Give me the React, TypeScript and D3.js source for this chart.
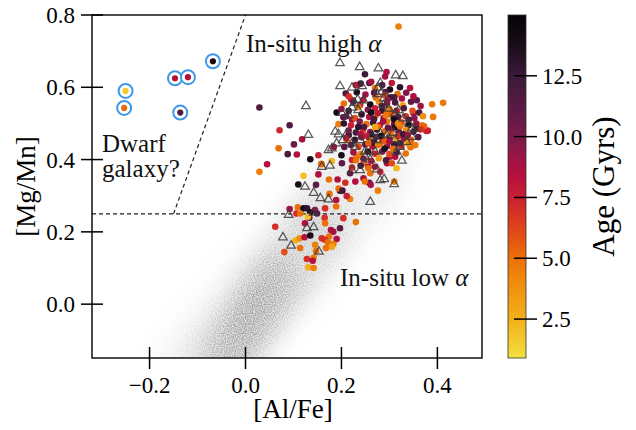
import React from 'react';
import * as d3 from 'd3';

const W = 636, H = 430;
const PLOT = { left: 92, right: 482, top: 15, bottom: 358 };
const CBAR = { left: 508, right: 526 };

const xDomain = [-0.32, 0.493];
const yDomain = [-0.149, 0.8];
const ageDomain = [0.9, 15.0];
const xTicks = [-0.2, 0.0, 0.2, 0.4];
const yTicks = [0.0, 0.2, 0.4, 0.6, 0.8];
const ageTicks = [2.5, 5.0, 7.5, 10.0, 12.5];

const cbarAges = [0.9, 2.5, 4.0, 5.0, 6.0, 7.0, 7.5, 8.5, 10.0, 11.0, 12.5, 13.5, 15.0];
const cbarColors = ['#f4e03e', '#f3b01a', '#f08c0c', '#eb7008', '#e24c18', '#d42e26', '#c82034', '#b3103f', '#7a1a4a', '#5e1a46', '#3b1a3a', '#1f1020', '#050205'];

// background sample density ridges: [x1, y1, x2, y2, half-width (dex), density]
const cloudRidges = [
  [-0.09, -0.17, 0.25, 0.36, 0.09, 0.11],
  [0.15, 0.25, 0.32, 0.5, 0.06, 0.06],
  [-0.05, -0.15, 0.15, 0.2, 0.065, 0.22],
  [-0.03, -0.13, 0.06, 0.07, 0.05, 0.3],
  [-0.01, -0.07, 0.03, 0.02, 0.03, 0.18],
];

// dwarf galaxy candidates [Al/Fe, Mg/Mn, age]
const dwarfStars = [
  [-0.25, 0.59, 1.6],
  [-0.253, 0.543, 5.2],
  [-0.147, 0.625, 8.6],
  [-0.12, 0.628, 8.6],
  [-0.136, 0.53, 11.5],
  [-0.068, 0.672, 14.2],
];

// stars with ages [Al/Fe, Mg/Mn, age]
const ageStars = [
  [0.319, 0.768, 4.5], [0.249, 0.636, 12.5], [0.294, 0.642, 8.5], [0.291, 0.63, 9], [0.258, 0.612, 11.5],
  [0.343, 0.598, 8.5], [0.029, 0.544, 11.5], [0.092, 0.495, 11.5], [0.071, 0.481, 7.2], [0.118, 0.456, 8.8],
  [0.101, 0.442, 10.5], [0.069, 0.431, 5], [0.088, 0.415, 12], [0.107, 0.414, 8.5], [0.135, 0.401, 14],
  [0.045, 0.387, 8.5], [0.029, 0.366, 4.5], [0.121, 0.355, 2], [0.11, 0.331, 14], [0.147, 0.33, 11],
  [0.092, 0.263, 9], [0.109, 0.268, 5], [0.121, 0.265, 14], [0.106, 0.251, 7], [0.209, 0.583, 12],
  [0.23, 0.606, 9], [0.22, 0.566, 7.5], [0.19, 0.53, 14], [0.204, 0.517, 11], [0.194, 0.498, 4.5],
  [0.222, 0.511, 9], [0.215, 0.468, 14], [0.234, 0.606, 7.5], [0.301, 0.594, 14], [0.292, 0.587, 11.5],
  [0.317, 0.581, 5], [0.31, 0.572, 11.5], [0.326, 0.569, 9], [0.412, 0.557, 4.8], [0.389, 0.553, 4.8],
  [0.357, 0.564, 11], [0.391, 0.518, 4.8], [0.35, 0.529, 9], [0.239, 0.551, 7.5], [0.272, 0.571, 5],
  [0.368, 0.495, 4.5], [0.38, 0.48, 7.5], [0.357, 0.486, 13], [0.377, 0.479, 7.5], [0.35, 0.44, 5],
  [0.333, 0.454, 2.5], [0.315, 0.376, 2.2], [0.31, 0.339, 4.5], [0.276, 0.314, 4.5], [0.152, 0.412, 7.5],
  [0.158, 0.388, 5], [0.18, 0.396, 2.2], [0.201, 0.39, 11], [0.2, 0.412, 14], [0.184, 0.435, 8.5],
  [0.206, 0.435, 11], [0.152, 0.359, 8.5], [0.174, 0.345, 5], [0.192, 0.345, 8.5], [0.208, 0.336, 7],
  [0.197, 0.314, 13], [0.175, 0.305, 5], [0.218, 0.291, 4.5], [0.189, 0.288, 8.5], [0.128, 0.265, 13],
  [0.145, 0.26, 9], [0.166, 0.265, 7], [0.189, 0.27, 5], [0.354, 0.44, 4.5], [0.344, 0.434, 5],
  [0.334, 0.417, 5], [0.312, 0.408, 8.5], [0.258, 0.336, 11], [0.246, 0.348, 8.5], [0.062, 0.214, 7],
  [0.114, 0.251, 5], [0.104, 0.176, 2.5], [0.113, 0.182, 4], [0.081, 0.144, 6], [0.123, 0.185, 8.5],
  [0.135, 0.19, 14], [0.114, 0.155, 5], [0.124, 0.224, 8.5], [0.133, 0.239, 11], [0.135, 0.254, 13.5],
  [0.149, 0.251, 11.5], [0.165, 0.239, 7], [0.166, 0.224, 5], [0.178, 0.205, 8.5], [0.183, 0.2, 9],
  [0.197, 0.21, 11], [0.204, 0.238, 7], [0.23, 0.227, 5], [0.174, 0.187, 5], [0.159, 0.182, 7],
  [0.166, 0.178, 7], [0.19, 0.18, 8.5], [0.172, 0.171, 5], [0.183, 0.166, 4.5], [0.18, 0.159, 3],
  [0.168, 0.155, 5], [0.145, 0.164, 4.5], [0.147, 0.147, 5], [0.142, 0.129, 4.5], [0.128, 0.125, 7],
  [0.14, 0.12, 8.5], [0.131, 0.102, 2.5], [0.142, 0.1, 4.5], [0.159, 0.387, 5], [0.222, 0.399, 7.5],
  [0.232, 0.408, 5], [0.211, 0.454, 5], [0.256, 0.422, 2.5], [0.246, 0.39, 5], [0.256, 0.38, 8.5],
  [0.26, 0.362, 5], [0.281, 0.366, 7.5], [0.295, 0.39, 8.5], [0.301, 0.408, 8.5], [0.218, 0.362, 11],
  [0.229, 0.339, 8.5], [0.249, 0.339, 5], [0.261, 0.33, 9], [0.194, 0.32, 5], [0.211, 0.299, 7.5],
  [0.202, 0.314, 12], [0.13, 0.242, 2],
  // dense high-alpha clump
  [0.24, 0.61, 12], [0.262, 0.615, 9], [0.285, 0.606, 11.5], [0.305, 0.612, 8], [0.322, 0.6, 13], [0.27, 0.598, 5],
  [0.215, 0.575, 7], [0.232, 0.586, 13.5], [0.25, 0.58, 9], [0.268, 0.585, 11], [0.29, 0.578, 6], [0.302, 0.572, 12.5],
  [0.335, 0.585, 10], [0.35, 0.575, 8.5], [0.205, 0.555, 5], [0.225, 0.56, 11], [0.245, 0.565, 8], [0.26, 0.552, 14],
  [0.278, 0.56, 4], [0.295, 0.555, 9.5], [0.312, 0.558, 12], [0.328, 0.55, 3], [0.345, 0.56, 11], [0.365, 0.548, 9],
  [0.2, 0.54, 9], [0.215, 0.535, 12.5], [0.235, 0.545, 4.5], [0.255, 0.538, 10], [0.27, 0.542, 7.5], [0.285, 0.535, 13],
  [0.3, 0.54, 5], [0.315, 0.535, 8], [0.33, 0.542, 11.5], [0.348, 0.535, 6], [0.362, 0.53, 12],
  [0.21, 0.52, 11], [0.228, 0.515, 6], [0.242, 0.525, 13], [0.258, 0.518, 8.5], [0.272, 0.522, 3.5], [0.288, 0.515, 10.5],
  [0.302, 0.525, 5.5], [0.318, 0.518, 12], [0.334, 0.52, 7], [0.352, 0.515, 9.5], [0.37, 0.52, 4],
  [0.205, 0.5, 13], [0.22, 0.495, 7.5], [0.238, 0.505, 10], [0.252, 0.498, 5], [0.266, 0.502, 12.5], [0.28, 0.495, 8],
  [0.295, 0.505, 4.5], [0.31, 0.498, 11], [0.325, 0.503, 6], [0.34, 0.495, 14], [0.356, 0.5, 9], [0.372, 0.492, 5.5],
  [0.215, 0.48, 10], [0.23, 0.475, 12], [0.245, 0.482, 6.5], [0.26, 0.476, 9], [0.274, 0.483, 13.5], [0.29, 0.478, 5],
  [0.305, 0.484, 8], [0.32, 0.476, 10.5], [0.335, 0.482, 4], [0.35, 0.477, 12], [0.365, 0.483, 7],
  [0.21, 0.46, 8], [0.228, 0.455, 13], [0.242, 0.462, 9.5], [0.258, 0.456, 4.5], [0.272, 0.462, 11], [0.286, 0.455, 7],
  [0.3, 0.462, 12.5], [0.316, 0.455, 3], [0.33, 0.46, 9], [0.345, 0.455, 5.5], [0.36, 0.462, 11.5],
  [0.22, 0.44, 11], [0.236, 0.436, 6], [0.25, 0.442, 12], [0.265, 0.436, 8.5], [0.28, 0.443, 5], [0.295, 0.437, 10],
  [0.31, 0.442, 13], [0.325, 0.436, 7], [0.34, 0.443, 4],
  [0.225, 0.42, 9], [0.24, 0.415, 4.5], [0.255, 0.422, 13], [0.27, 0.416, 7.5], [0.285, 0.422, 10.5], [0.3, 0.415, 6],
  [0.315, 0.42, 12], [0.23, 0.398, 5], [0.246, 0.402, 10], [0.262, 0.396, 8], [0.278, 0.404, 3.5], [0.293, 0.398, 12],
  [0.305, 0.39, 6], [0.222, 0.378, 7], [0.24, 0.383, 12.5], [0.256, 0.376, 5], [0.27, 0.38, 9],
  [0.295, 0.53, 5], [0.3, 0.535, 4.5], [0.305, 0.528, 5.5], [0.292, 0.522, 4.8],
  [0.262, 0.47, 13], [0.276, 0.49, 5], [0.283, 0.466, 14], [0.297, 0.488, 11], [0.304, 0.47, 4.5], [0.312, 0.49, 13.5],
  [0.318, 0.465, 7], [0.287, 0.505, 9], [0.268, 0.512, 12], [0.276, 0.528, 8], [0.309, 0.512, 14], [0.322, 0.492, 5],
  [0.329, 0.47, 12.5], [0.291, 0.45, 5.5], [0.268, 0.447, 13], [0.253, 0.466, 8], [0.247, 0.49, 11.5], [0.284, 0.548, 12],
  [0.296, 0.565, 9], [0.262, 0.53, 14], [0.276, 0.44, 4.8], [0.3, 0.45, 8.5], [0.318, 0.5, 4.2], [0.34, 0.51, 12],
  [0.338, 0.468, 9], [0.27, 0.49, 2.8], [0.29, 0.43, 13.5], [0.256, 0.445, 5.5], [0.235, 0.49, 13], [0.24, 0.47, 8.7],
  [0.308, 0.43, 5], [0.322, 0.445, 12],
];

// comparison sample (open triangles) [Al/Fe, Mg/Mn]
const triStars = [
  [0.197, 0.667], [0.238, 0.656], [0.277, 0.652], [0.313, 0.633], [0.328, 0.631], [0.197, 0.603], [0.222, 0.599],
  [0.243, 0.603], [0.276, 0.599], [0.281, 0.612], [0.284, 0.587], [0.274, 0.581], [0.288, 0.569], [0.126, 0.548],
  [0.234, 0.566], [0.227, 0.557], [0.246, 0.564], [0.201, 0.529], [0.215, 0.523], [0.222, 0.544], [0.235, 0.537],
  [0.288, 0.551], [0.298, 0.541], [0.312, 0.528], [0.319, 0.537], [0.329, 0.514], [0.34, 0.5], [0.347, 0.486],
  [0.187, 0.477], [0.211, 0.472], [0.203, 0.454], [0.19, 0.445], [0.18, 0.431], [0.173, 0.426], [0.222, 0.445],
  [0.229, 0.435], [0.239, 0.454], [0.263, 0.463], [0.274, 0.454], [0.281, 0.472], [0.295, 0.468], [0.308, 0.474],
  [0.312, 0.454], [0.322, 0.435], [0.315, 0.422], [0.336, 0.449], [0.347, 0.463], [0.354, 0.486], [0.239, 0.371],
  [0.222, 0.371], [0.274, 0.373], [0.281, 0.343], [0.289, 0.346], [0.31, 0.332], [0.26, 0.283], [0.131, 0.468],
  [0.142, 0.308], [0.173, 0.29], [0.156, 0.293], [0.176, 0.383], [0.159, 0.38], [0.249, 0.408], [0.26, 0.4],
  [0.27, 0.422], [0.249, 0.422], [0.124, 0.325], [0.09, 0.247], [0.078, 0.185], [0.095, 0.162], [0.128, 0.21],
  [0.142, 0.213], [0.153, 0.145], [0.326, 0.397], [0.142, 0.253], [0.194, 0.47],
];

const x = d3.scaleLinear().domain(xDomain).range([PLOT.left, PLOT.right]);
const y = d3.scaleLinear().domain(yDomain).range([PLOT.bottom, PLOT.top]);
const cy = d3.scaleLinear().domain(ageDomain).range([PLOT.bottom, PLOT.top]);
const color = d3.scaleLinear<string>().domain(cbarAges).range(cbarColors).interpolate(d3.interpolateRgb).clamp(true);
const fmt = (v: number) => d3.format('.1f')(v).replace('-', '\u2212');
const tri = d3.symbol().type(d3.symbolTriangle).size(32);

const SERIF = "'Liberation Serif', 'Times New Roman', 'DejaVu Serif', serif";

export default function App() {
  const pxPerDex = x(1) - x(0);
  return (
    <svg width={W} height={H} style={{ position: 'absolute', left: 0, top: 0, background: '#fff' }} fontFamily={SERIF}>
      <defs>
        <clipPath id="plotClip">
          <rect x={PLOT.left} y={PLOT.top} width={PLOT.right - PLOT.left} height={PLOT.bottom - PLOT.top} />
        </clipPath>
        <filter id="cloud" x="-50%" y="-50%" width="200%" height="200%">
          <feGaussianBlur in="SourceGraphic" stdDeviation="12" result="blur" />
          <feTurbulence type="fractalNoise" baseFrequency="0.9" numOctaves="1" seed="3" result="noise" />
          <feColorMatrix in="noise" type="matrix"
            values="0 0 0 0 1  0 0 0 0 1  0 0 0 0 1  2.6 0 0 0 -0.9" result="mask" />
          <feComposite in="blur" in2="mask" operator="arithmetic" k1="0.9" k2="0.45" k3="0" k4="0" />
        </filter>
        <linearGradient id="cbarGrad" x1="0" y1="1" x2="0" y2="0">
          {cbarAges.map((a, i) => (
            <stop key={i} offset={(a - ageDomain[0]) / (ageDomain[1] - ageDomain[0])} stopColor={cbarColors[i]} />
          ))}
        </linearGradient>
      </defs>

      {/* background cloud */}
      <g clipPath="url(#plotClip)">
        <g filter="url(#cloud)">
          {cloudRidges.map((r, i) => (
            <line key={i} x1={x(r[0])} y1={y(r[1])} x2={x(r[2])} y2={y(r[3])}
              stroke="#7a7a7a" strokeOpacity={r[5]} strokeWidth={2 * r[4] * pxPerDex} strokeLinecap="round" />
          ))}
        </g>
      </g>

      {/* dividing lines */}
      <g stroke="#222" strokeWidth={1.2} strokeDasharray="4,3" fill="none">
        <line x1={x(xDomain[0])} y1={y(0.25)} x2={x(xDomain[1])} y2={y(0.25)} />
        <line x1={x(-0.15)} y1={y(0.25)} x2={x(0.0)} y2={y(0.8)} />
      </g>

      {/* stars */}
      <g clipPath="url(#plotClip)">
        {ageStars.map((d, i) => (
          <circle key={i} cx={x(d[0])} cy={y(d[1])} r={3.3} fill={color(d[2])} />
        ))}
        {triStars.map((d, i) => (
          <path key={i} d={tri() as string} transform={`translate(${x(d[0])},${y(d[1])})`}
            fill="none" stroke="#3c3c3c" strokeOpacity={0.85} strokeWidth={1.25} />
        ))}
        {dwarfStars.map((d, i) => (
          <g key={i}>
            <circle cx={x(d[0])} cy={y(d[1])} r={7} fill="#fff" stroke="#3d98ea" strokeWidth={2} />
            <circle cx={x(d[0])} cy={y(d[1])} r={3.1} fill={color(d[2])} />
          </g>
        ))}
      </g>

      {/* annotations */}
      <g fontSize={25} fill="#111">
        <text x={246} y={52}>In-situ high <tspan fontStyle="italic">α</tspan></text>
        <text x={340} y={286}>In-situ low <tspan fontStyle="italic">α</tspan></text>
        <text x={102} y={152}>Dwarf</text>
        <text x={102} y={177}>galaxy?</text>
      </g>

      {/* spines */}
      <rect x={PLOT.left} y={PLOT.top} width={PLOT.right - PLOT.left} height={PLOT.bottom - PLOT.top}
        fill="none" stroke="#000" strokeWidth={1.4} />

      {/* x axis */}
      <g>
        {xTicks.map((t) => (
          <g key={t}>
            <line x1={x(t)} x2={x(t)} y1={PLOT.bottom - 11} y2={PLOT.bottom + 11} stroke="#000" strokeWidth={1.5} />
            <text x={x(t)} y={393} textAnchor="middle" fontSize={23}>{fmt(t)}</text>
          </g>
        ))}
        <text x={293} y={418} textAnchor="middle" fontSize={27}>[Al/Fe]</text>
      </g>

      {/* y axis */}
      <g>
        {yTicks.map((t) => (
          <g key={t}>
            <line x1={PLOT.left - 11} x2={PLOT.left + 11} y1={y(t)} y2={y(t)} stroke="#000" strokeWidth={1.5} />
            <text x={75} y={y(t)} dy="0.35em" textAnchor="end" fontSize={23}>{fmt(t)}</text>
          </g>
        ))}
        <text transform={`translate(35,${(PLOT.top + PLOT.bottom) / 2}) rotate(-90)`} textAnchor="middle" fontSize={27}>[Mg/Mn]</text>
      </g>

      {/* colorbar */}
      <g>
        <rect x={CBAR.left} y={PLOT.top} width={CBAR.right - CBAR.left} height={PLOT.bottom - PLOT.top}
          fill="url(#cbarGrad)" stroke="#333" strokeWidth={0.8} />
        {ageTicks.map((t) => (
          <g key={t}>
            <line x1={CBAR.right - 12} x2={CBAR.right + 11} y1={cy(t)} y2={cy(t)} stroke="#000" strokeWidth={1.5} />
            <text x={542} y={cy(t)} dy="0.35em" fontSize={23}>{d3.format('.1f')(t)}</text>
          </g>
        ))}
        <text transform={`translate(614,${(PLOT.top + PLOT.bottom) / 2}) rotate(-90)`} textAnchor="middle" fontSize={31}>Age (Gyrs)</text>
      </g>
    </svg>
  );
}
